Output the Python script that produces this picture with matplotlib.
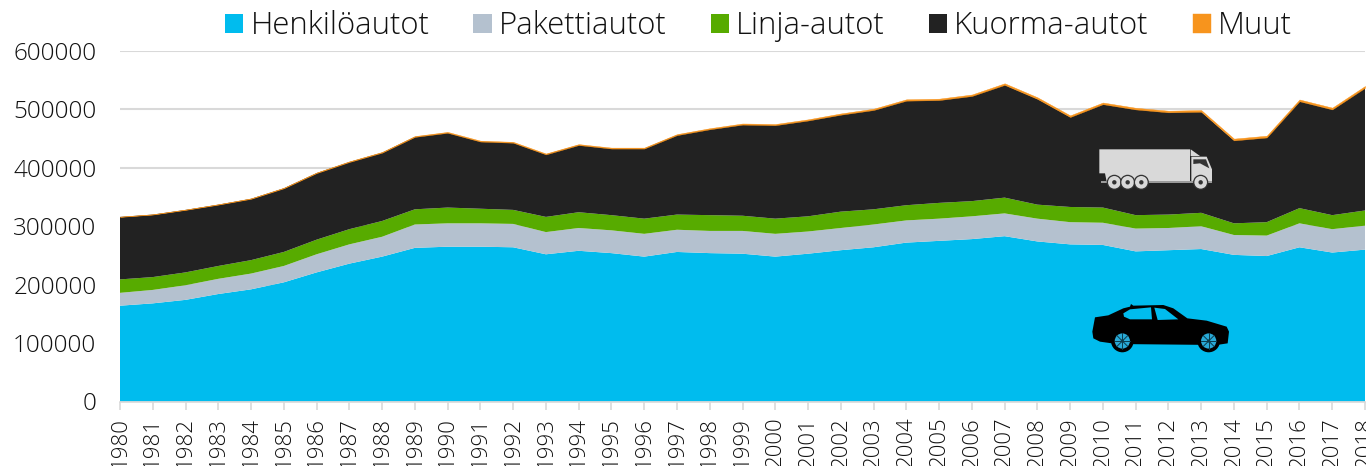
"""Rekisteröidyt ajoneuvot 1980-2018, pinottu aluekuvio."""

import matplotlib

matplotlib.use("Agg")
import matplotlib.pyplot as plt
import numpy as np
from matplotlib.patches import Circle, Polygon

plt.rcParams["font.family"] = ["Open Sans", "DejaVu Sans"]
plt.rcParams["font.weight"] = "light"

years = [str(y) for y in range(1980, 2019)]

series_names = ["Henkilöautot", "Pakettiautot", "Linja-autot", "Kuorma-autot", "Muut"]
series_colors = ["#00bcee", "#b4c1cf", "#57ab00", "#222222", "#f7941d"]

# ylärajat luettu kuvasta, kumulatiivisesti (tuhansia)
henkilo_top = [164, 168, 174, 184, 192, 204, 221, 236, 248, 263, 265, 265, 264, 252, 258, 254, 248, 256, 254, 253,
               248, 253, 259, 264, 272, 275, 278, 283, 274, 269, 268, 257, 259, 261, 251, 249, 264, 255, 260]
paketti_top = [186, 191, 199, 210, 219, 232, 252, 269, 282, 303, 305, 305, 304, 290, 297, 293, 287, 294, 292, 292,
               287, 291, 297, 303, 310, 313, 317, 322, 313, 307, 306, 296, 297, 300, 285, 284, 305, 295, 301]
linja_top = [209, 213, 221, 232, 242, 256, 277, 295, 309, 329, 332, 330, 328, 316, 324, 319, 313, 320, 319, 318,
             313, 317, 325, 329, 336, 340, 343, 349, 337, 333, 332, 319, 320, 323, 305, 307, 331, 319, 327]
kuorma_top = [316, 320, 328, 337, 347, 365, 391, 410, 426, 453, 460, 445, 443, 423, 439, 433, 433, 456, 466, 474,
              473, 481, 491, 499, 515, 516, 523, 542, 518, 487, 509, 500, 495, 496, 447, 452, 514, 500, 537]
muut = [500, 500, 600, 700, 800, 900, 1000, 1100, 1200, 1400, 1500, 1500, 1500, 1500, 1600, 1600, 1600, 1700, 1800, 1900,
        2000, 2000, 2100, 2200, 2300, 2400, 2500, 2700, 2800, 2800, 2800, 2800, 2800, 2900, 3000, 3000, 3000, 3000, 3100]

W, H = 1366, 466
GRID = "#d9d9d9"

henkilo = np.array(henkilo_top) * 1000
paketti = (np.array(paketti_top) - np.array(henkilo_top)) * 1000
linja = (np.array(linja_top) - np.array(paketti_top)) * 1000
kuorma = (np.array(kuorma_top) - np.array(linja_top)) * 1000

fig = plt.figure(figsize=(W / 100, H / 100), dpi=100)
ax = fig.add_axes([120 / W, 1 - 401.5 / H, (1365 - 120) / W, 350.5 / H])

x = np.arange(len(years))
polys = ax.stackplot(x, henkilo, paketti, linja, kuorma, muut, colors=series_colors, labels=series_names, zorder=2)
polys[-1].set_edgecolor(series_colors[-1])
polys[-1].set_linewidth(0.3)

ax.set_xlim(0, len(years) - 1)
ax.set_ylim(0, 600000)
ax.set_xticks(x)
ax.set_xticklabels(years, rotation=90, fontsize=16, color="#111111")
ax.set_yticks(range(0, 600001, 100000))
ax.tick_params(axis="y", length=0, labelsize=17.5, labelcolor="#111111", pad=17)
ax.tick_params(axis="x", length=6, width=1.2, color=GRID, pad=5)
ax.grid(axis="y", color=GRID, linewidth=1.5, zorder=0)
ax.set_axisbelow(True)
for side in ["top", "right", "left"]:
    ax.spines[side].set_visible(False)
ax.spines["bottom"].set_color(GRID)
ax.spines["bottom"].set_linewidth(1.2)
for label in ax.get_xticklabels():
    label.set_clip_on(False)

ax.legend(
    loc="center",
    bbox_to_anchor=(758.5 / W, 1 - 26.5 / H),
    bbox_transform=fig.transFigure,
    ncol=5,
    frameon=False,
    fontsize=22.4,
    handlelength=0.58,
    handleheight=0.58,
    handletextpad=0.23,
    columnspacing=1.42,
    labelcolor="#111111",
    borderpad=0,
)

# kuvakkeet pikselikoordinaateissa
icons = fig.add_axes([0, 0, 1, 1], zorder=5)
icons.set_xlim(0, W)
icons.set_ylim(H, 0)
icons.axis("off")


def z(points):
    """Muuntaa lähikuvan koordinaatit kuvan pikseleiksi."""
    return [(px / 3 + 1050, py / 3 + 130) for px, py in points]


def disc(cx, cy, radius, color):
    (x0, y0), = z([(cx, cy)])
    icons.add_patch(Circle((x0, y0), radius, fc=color, ec="none"))


TRUCK = "#d9d9d9"
DARK = "#333333"
icons.add_patch(Polygon(z([(148, 58), (420, 58), (420, 155), (170, 155), (165, 130), (148, 130)]), fc=TRUCK, ec="none"))
icons.add_patch(Polygon(z([(422, 58), (450, 78), (422, 78)]), fc=TRUCK, ec="none"))
icons.add_patch(Polygon(z([(424, 80), (470, 80), (486, 118), (486, 155), (424, 155)]), fc=TRUCK, ec="none"))
icons.add_patch(Polygon(z([(430, 88), (468, 88), (478, 115), (450, 100), (430, 102)]), fc=DARK, ec="none"))
icons.add_patch(Polygon(z([(152, 154), (486, 154), (486, 160), (152, 160)]), fc="#9a9a9a", ec="none"))
for wx in [193, 233, 274, 452]:
    disc(wx, 157, 7.6, DARK)
    disc(wx, 157, 6.3, TRUCK)
    disc(wx, 157, 2.2, DARK)

car_body = [(127, 605), (135, 562), (175, 556), (220, 535), (240, 530), (243, 522), (250, 527), (340, 525), (370, 535),
            (412, 565), (470, 572), (530, 590), (537, 605), (533, 640), (500, 645), (200, 642), (150, 635), (130, 625)]
icons.add_patch(Polygon(z(car_body), fc="black", ec="none"))
icons.add_patch(Polygon(z([(220, 550), (240, 538), (303, 532), (306, 568), (240, 568), (222, 560)]), fc="#00bcee", ec="none"))
icons.add_patch(Polygon(z([(313, 533), (345, 537), (385, 568), (323, 570)]), fc="#00bcee", ec="none"))
for wx in [217, 476]:
    disc(wx, 633, 11.3, "black")
    disc(wx, 633, 7.6, "#29a9d6")
    (cx, cy), = z([(wx, 633)])
    for angle in np.arange(0, np.pi, np.pi / 4):
        dx, dy = 7.6 * np.cos(angle), 7.6 * np.sin(angle)
        icons.plot([cx - dx, cx + dx], [cy - dy, cy + dy], color="#0b3c4d", lw=0.7)
    disc(wx, 633, 1.6, "#0b3c4d")

fig.savefig("out.png", dpi=100)
plt.close(fig)
